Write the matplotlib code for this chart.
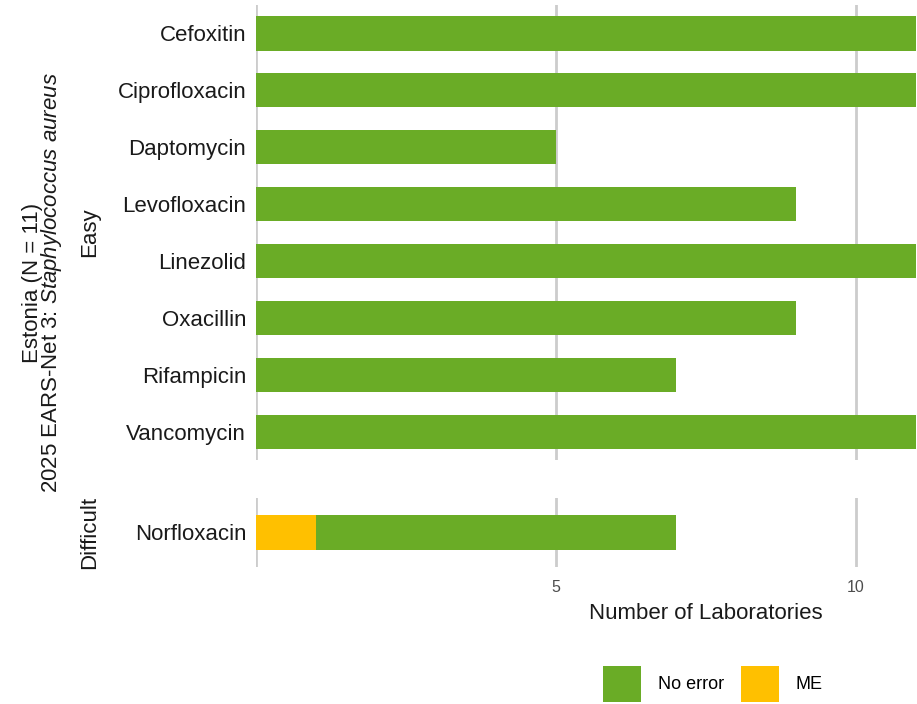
import matplotlib
matplotlib.use("Agg")
import matplotlib.pyplot as plt
from matplotlib.patches import Patch

plt.rcParams['font.family'] = ['Liberation Sans', 'DejaVu Sans']
plt.rcParams['mathtext.fontset'] = 'custom'
plt.rcParams['mathtext.rm'] = 'Liberation Sans'
plt.rcParams['mathtext.it'] = 'Liberation Sans:italic'

# ---- data ----
easy_drugs = ["Cefoxitin", "Ciprofloxacin", "Daptomycin", "Levofloxacin",
              "Linezolid", "Oxacillin", "Rifampicin", "Vancomycin"]
easy_no_error = [11, 11, 5, 9, 11, 9, 7, 11]

difficult_drugs = ["Norfloxacin"]
difficult_me = [1]
difficult_no_error = [6]

x_ticks = [0, 5, 10, 15]
x_tick_labels = ["", "5", "10", ""]

GREEN = "#6AAC26"
ORANGE = "#FFC000"
GRID = "#CCCCCC"
TXT = "#1A1A1A"

W, H = 917, 704
fig = plt.figure(figsize=(W / 100, H / 100), dpi=100)

px_per_unit = 60.0
x0 = 256
xmax = 15
left = x0 / W
width = xmax * px_per_unit / W

def fy(p):
    return 1 - p / H

ax1 = fig.add_axes([left, fy(460), width, (460 - 5) / H])
ax2 = fig.add_axes([left, fy(567), width, (567 - 498) / H])

bar_h = 0.6

# Easy panel
y1 = list(range(len(easy_drugs)))
ax1.barh(y1, easy_no_error, height=bar_h, color=GREEN, zorder=2)
ax1.set_ylim(len(easy_drugs) - 0.5, -0.5)
ax1.set_yticks(y1)
ax1.set_yticklabels(easy_drugs)

# Difficult panel
y2 = list(range(len(difficult_drugs)))
ax2.barh(y2, difficult_me, height=bar_h, color=ORANGE, zorder=2)
ax2.barh(y2, difficult_no_error, left=difficult_me, height=bar_h, color=GREEN, zorder=2)
ax2.set_ylim(0.605, -0.605)
ax2.set_yticks(y2)
ax2.set_yticklabels(difficult_drugs)

for ax in (ax1, ax2):
    ax.set_xlim(0, xmax)
    ax.set_xticks(x_ticks)
    for s in ax.spines.values():
        s.set_visible(False)
    ax.grid(axis='x', color=GRID, linewidth=2.0, zorder=0)
    ax.grid(axis='y', visible=False)
    ax.set_axisbelow(True)
    ax.tick_params(axis='y', length=0, pad=7, labelsize=16, labelcolor=TXT)
    ax.tick_params(axis='x', length=0, pad=9, labelsize=11.5, labelcolor="#4D4D4D")
    ax.patch.set_alpha(0)

ax1.set_xticklabels([])
ax2.set_xticklabels(x_tick_labels)
ax2.set_xlabel("Number of Laboratories", fontsize=16, color=TXT, labelpad=6)

# strip labels
fig.text(90 / W, fy(232), "Easy", rotation=90, ha='center', va='center',
         fontsize=16, color=TXT)
fig.text(90 / W, fy(532), "Difficult", rotation=90, ha='center', va='center',
         fontsize=16, color=TXT)

# overall y label (two lines, one text)
fig.text(43 / W, fy(283),
         "Estonia (N = 11)\n2025 EARS-Net 3: $\\mathit{Staphylococcus\\ aureus}$",
         rotation=90, ha='center', va='center', multialignment='center',
         fontsize=16, color=TXT, linespacing=0.8)

# legend
handles = [Patch(facecolor=GREEN, edgecolor='none', label="No error"),
           Patch(facecolor=ORANGE, edgecolor='none', label="ME")]
fig.legend(handles=handles, loc='center', bbox_to_anchor=(713 / W, fy(684)),
           ncol=2, frameon=False, fontsize=13, handlelength=2.1,
           handleheight=2.7, handletextpad=0.95, columnspacing=0.9,
           borderpad=0, borderaxespad=0)

fig.savefig("out.png", dpi=100)
